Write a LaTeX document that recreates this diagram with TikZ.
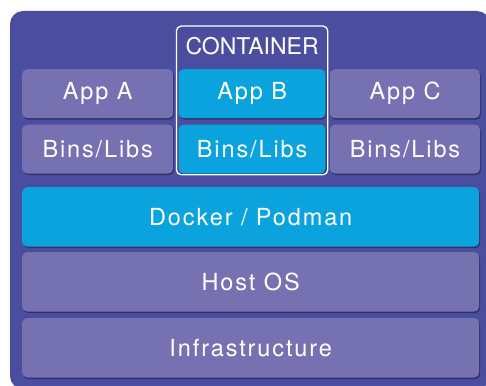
\documentclass[tikz,border=0pt]{standalone}
\usepackage{fontspec}
\setmainfont{TeX Gyre Heros}[LetterSpace=8]
\newfontfamily\capsfont{TeX Gyre Heros}
\usetikzlibrary{positioning}
\usetikzlibrary{calc}
\usetikzlibrary{shadows}

\definecolor{hostblue}{RGB}{75,78,158}
\definecolor{layerpurple}{RGB}{118,114,178}
\definecolor{ctrcyan}{RGB}{10,163,221}

\begin{document}
\begin{tikzpicture}[
        x=1pt, y=-1pt,
        node distance=6pt and 5pt,
        layer/.style={rounded corners=5pt, fill=layerpurple, text=white,
                    inner sep=0pt, minimum height=49pt,
                    font=\fontsize{23.5}{27}\selectfont,
                    drop shadow={shadow xshift=1pt, shadow yshift=-1.5pt,
                                 opacity=0.35, fill=black}},
        layerC/.style={layer, fill=ctrcyan},
        wide/.style={minimum width=457pt, minimum height=59.5pt}
    ]
    \useasboundingbox (0,0) rectangle (486,385);
    \clip (0,0) rectangle (486,385);

    % ------- background panel -------
    \fill[hostblue, rounded corners=13pt] (10,11) rectangle (490,389);

    % ------- apps and libs (top rows) -------
    \node[layer, minimum width=151pt, anchor=north west] (appA) at (22,69) {App A};
    \node[layerC, minimum width=147pt, right=5pt of appA] (appB) {App B};
    \node[layer, minimum width=150pt, right=4pt of appB] (appC) {App C};

    \node[layer, minimum width=151pt, below=6pt of appA] (libA) {Bins/Libs};
    \node[layerC, minimum width=147pt, below=6pt of appB] (libB) {Bins/Libs};
    \node[layer, minimum width=150pt, below=6pt of appC] (libC) {Bins/Libs};

    % container frame round App B
    \draw[white, line width=1.3pt, rounded corners=5pt]
        ($(appB.north west)+(-2,-43)$) coordinate (ctrNW)
        rectangle ($(libB.south east)+(2,1)$) coordinate (ctrSE);
    \node[text=white, font=\capsfont\fontsize{23}{27}\selectfont, anchor=center]
        (ctr) at ($(appB.north)+(0,-23)$) {CONTAINER};

    % ------- runtime, OS, infrastructure -------
    \node[layerC, wide, anchor=north west] (runtime) at (22,187) {Docker / Podman};
    \node[layer, wide, below=5pt of runtime] (os) {Host OS};
    \node[layer, wide, below=6pt of os] (infra) {Infrastructure};

\end{tikzpicture}
\end{document}
